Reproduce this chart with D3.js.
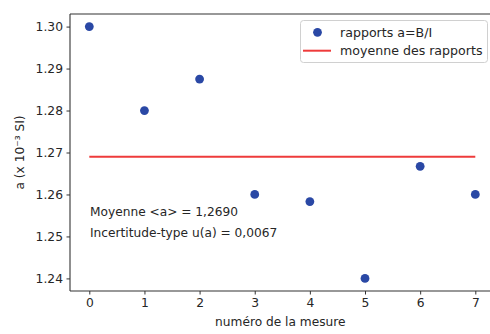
<!DOCTYPE html>
<html><head><meta charset="utf-8">
<script src="https://cdn.jsdelivr.net/npm/d3@7"></script>
<style>body{margin:0;background:#fff;} text{font-family:"DejaVu Sans",sans-serif;fill:#262626;}</style>
</head><body><svg id="c" width="490" height="334"></svg>
<script>
const mesures = [0,1,2,3,4,5,6,7];
const rapports = [1.300,1.280,1.2875,1.260,1.2583,1.240,1.2667,1.260];
const moyenne = 1.2690;
const xTicks = [0,1,2,3,4,5,6,7];
const yTicks = [1.24,1.25,1.26,1.27,1.28,1.29,1.30];
const legendLabels = ["rapports a=B/I","moyenne des rapports"];
const annotations = ["Moyenne <a> = 1,2690","Incertitude-type u(a) = 0,0067"];

const svg = d3.select("#c");
const x = d3.scaleLinear().domain([-0.35,7.35]).range([70,494.6]);
const y = d3.scaleLinear().domain([1.237,1.303]).range([291,14]);
const blue = "#2a48a5", red = "#ee3b3b", axisCol="#333";

// spines
svg.append("line").attr("x1",70).attr("x2",70).attr("y1",y.range()[1]).attr("y2",y.range()[0]).attr("stroke",axisCol).attr("stroke-width",1.1);
svg.append("line").attr("x1",70).attr("x2",490).attr("y1",y.range()[1]).attr("y2",y.range()[1]).attr("stroke",axisCol).attr("stroke-width",1.1);
svg.append("line").attr("x1",70).attr("x2",490).attr("y1",y.range()[0]).attr("y2",y.range()[0]).attr("stroke",axisCol).attr("stroke-width",1.1);

const xa = svg.append("g").attr("transform",`translate(0,${y.range()[0]})`)
  .call(d3.axisBottom(x).tickValues(xTicks).tickFormat(d3.format("d")).tickSize(3.5).tickPadding(3.5));
xa.select(".domain").remove();
xa.selectAll("line").attr("stroke",axisCol);
xa.selectAll("text").attr("font-size","12.3px").style("fill","#262626");

const ya = svg.append("g").attr("transform","translate(70,0)")
  .call(d3.axisLeft(y).tickValues(yTicks).tickFormat(d3.format(".2f")).tickSize(3.5).tickPadding(3.5));
ya.select(".domain").remove();
ya.selectAll("line").attr("stroke",axisCol);
ya.selectAll("text").attr("font-size","12.3px").style("fill","#262626");

// mean line
svg.append("line").attr("x1",x(0)).attr("x2",x(7)).attr("y1",y(moyenne)).attr("y2",y(moyenne))
  .attr("stroke",red).attr("stroke-width",2);

// points
svg.selectAll("circle.pt").data(mesures).join("circle").attr("class","pt")
  .attr("cx",d=>x(d)).attr("cy",(d,i)=>y(rapports[i])).attr("r",4.4).attr("fill",blue);

// annotations
annotations.forEach((t,i)=>{
  svg.append("text").attr("x",90).attr("y",216+i*21).attr("font-size","12.2px").text(t);
});

// axis labels
svg.append("text").attr("x",(x(-0.35)+x(7.35))/2-2).attr("y",326).attr("text-anchor","middle").attr("font-size","12.2px").text("numéro de la mesure");
svg.append("text").attr("transform",`translate(24,${(y.range()[0]+y.range()[1])/2}) rotate(-90)`)
  .attr("text-anchor","middle").attr("font-size","12.2px").text("a (x 10⁻³ SI)");

// legend
const lg = svg.append("g");
lg.append("rect").attr("x",300.5).attr("y",20.5).attr("width",187).attr("height",42).attr("rx",3)
  .attr("fill","#fff").attr("fill-opacity",0.8).attr("stroke","#d0d0d0");
lg.append("circle").attr("cx",317.5).attr("cy",32.3).attr("r",4.4).attr("fill",blue);
lg.append("line").attr("x1",303).attr("x2",331).attr("y1",50.7).attr("y2",50.7).attr("stroke",red).attr("stroke-width",2);
legendLabels.forEach((t,i)=>{
  lg.append("text").attr("x",340).attr("y",36.5+i*18.5).attr("font-size","12.6px").text(t);
});
</script></body></html>
